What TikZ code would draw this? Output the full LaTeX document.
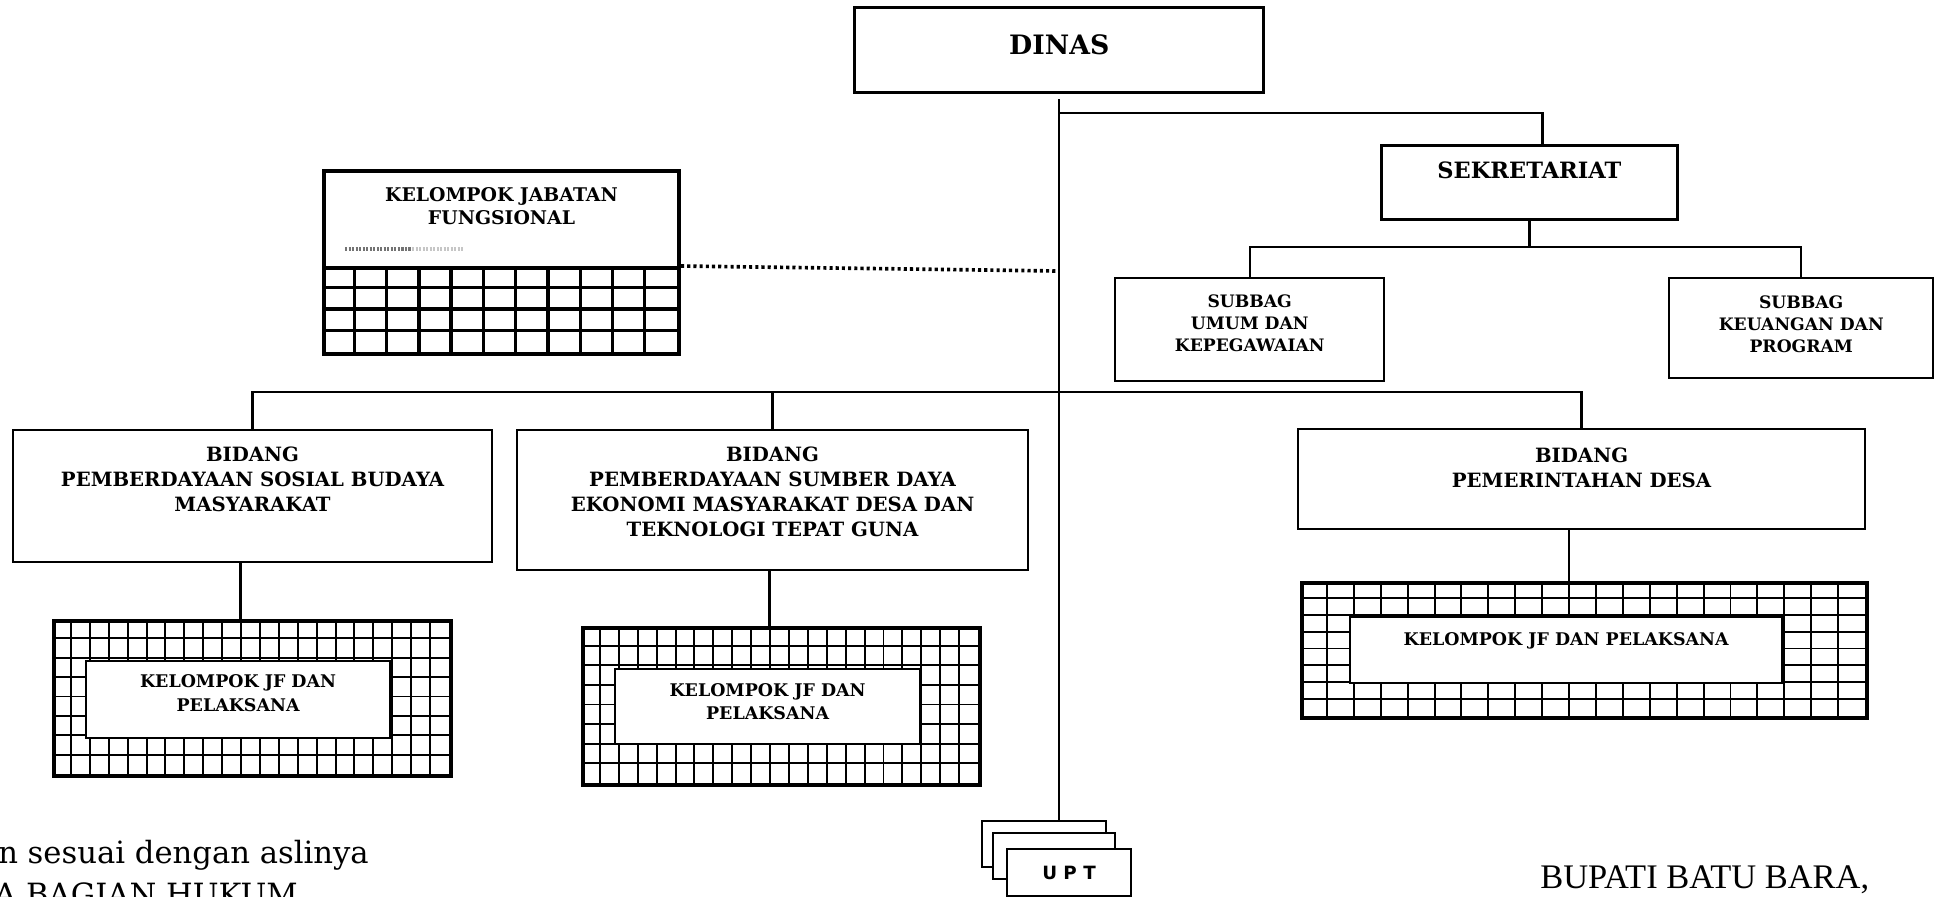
\documentclass[tikz,border=0pt]{standalone}
\usepackage{fontspec}
\setmainfont{DejaVu Serif}
\setsansfont{DejaVu Sans}
\newfontfamily\timesfont{Liberation Serif}
\usepackage{tikz}
\usetikzlibrary{calc}

\newcommand{\fdinas}{\bfseries\fontsize{19}{22}\selectfont}
\newcommand{\fsek}{\bfseries\fontsize{16}{19}\selectfont}
\newcommand{\fkjf}{\bfseries\fontsize{13.4}{16.7}\selectfont}
\newcommand{\fsub}{\bfseries\fontsize{12.2}{15.7}\selectfont}
\newcommand{\fbid}{\bfseries\fontsize{14}{17.6}\selectfont}
\newcommand{\fjf}{\bfseries\fontsize{12.4}{16.7}\selectfont}
\newcommand{\fupt}{\sffamily\bfseries\fontsize{13}{15}\selectfont}
% x, y, width, height, columns, rows
\newcommand{\cellgrid}[7][gridline]{%
  \pgfmathtruncatemacro{\gcols}{#6-1}\pgfmathtruncatemacro{\grows}{#7-1}%
  \foreach \i in {1,...,\gcols}{\draw[#1] ({#2+\i*#4/#6},#3) -- ++(0,#5);}%
  \foreach \j in {1,...,\grows}{\draw[#1] (#2,{#3+\j*#5/#7}) -- ++(#4,0);}%
}

\tikzset{
    box/.style={draw, fill=white, inner sep=0pt, anchor=north west},
    gbox/.style={draw, inner sep=0pt, anchor=north west, line width=2.6pt},
    ttl/.style={anchor=north, inner sep=0pt, align=center},
    conn/.style={line width=1.7pt},
    gridline/.style={line width=1.4pt},
    kjfline/.style={line width=2.4pt},
    dotline/.style={line width=2.6pt, dash pattern=on 2.2pt off 2.2pt}
}

\begin{document}
\begin{tikzpicture}[x=0.025cm, y=-0.025cm]
        \useasboundingbox (0,0) rectangle (1934,896);

        \node[box, minimum width=10.225cm, minimum height=2.125cm, line width=2.4pt,
            label={[ttl, yshift=-0.7cm, font=\fdinas]north:DINAS}] (dinas) at (853,6) {};

        \node[box, minimum width=7.4cm, minimum height=1.85cm, line width=2pt,
            label={[ttl, yshift=-0.44cm, font=\fsek]north:SEKRETARIAT}] (sekre) at (1380,144) {};
        \node[box, minimum width=6.725cm, minimum height=2.575cm, line width=1.7pt,
            label={[ttl, yshift=-0.425cm, font=\fsub]north:{SUBBAG\\UMUM DAN\\KEPEGAWAIAN}}] (umum) at (1114,277) {};
        \node[box, minimum width=6.6cm, minimum height=2.5cm, line width=1.7pt,
            label={[ttl, yshift=-0.45cm, font=\fsub]north:{SUBBAG\\KEUANGAN DAN\\PROGRAM}}] (keu) at (1668,277) {};

        \cellgrid[kjfline]{322}{266}{355}{86}{11}{4}
        \node[gbox, minimum width=8.875cm, minimum height=2.15cm, line width=2.8pt] (kjfgrid) at (322,266) {};
        \node[box, minimum width=8.875cm, minimum height=2.425cm, line width=2.8pt,
            label={[ttl, yshift=-0.45cm, font=\fkjf]north:{KELOMPOK JABATAN\\FUNGSIONAL}}] (kjf) at (322,169) {};
        \draw[gray!90!black, line width=2.4pt, dash pattern=on 1.6pt off 0.9pt] (345,249) -- (412,249);
        \draw[gray!45, line width=2.4pt, dash pattern=on 1.6pt off 0.9pt] (412,249) -- (464,249);

        \node[box, minimum width=11.975cm, minimum height=3.3cm, line width=1.4pt,
            label={[ttl, yshift=-0.45cm, font=\fbid]north:{BIDANG\\PEMBERDAYAAN SOSIAL BUDAYA\\MASYARAKAT}}] (bid1) at (12,429) {};
        \node[box, minimum width=12.775cm, minimum height=3.5cm, line width=1.4pt,
            label={[ttl, yshift=-0.45cm, font=\fbid]north:{BIDANG\\PEMBERDAYAAN SUMBER DAYA\\EKONOMI MASYARAKAT DESA DAN\\TEKNOLOGI TEPAT GUNA}}] (bid2) at (516,429) {};
        \node[box, minimum width=14.175cm, minimum height=2.5cm, line width=1.4pt,
            label={[ttl, yshift=-0.5cm, font=\fbid]north:{BIDANG\\PEMERINTAHAN DESA}}] (bid3) at (1297,428) {};

        \cellgrid{52}{619}{397}{155}{21}{8}
        \node[gbox, minimum width=9.925cm, minimum height=3.875cm] (g1) at (52,619) {};
        \node[box, minimum width=7.6cm, minimum height=1.925cm, line width=1.5pt,
            label={[ttl, yshift=-0.3625cm, font=\fjf]north:{KELOMPOK JF DAN\\PELAKSANA}}] (jf1) at (85,660) {};

        \cellgrid{581}{626}{397}{157}{21}{8}
        \node[gbox, minimum width=9.925cm, minimum height=3.925cm] (g2) at (581,626) {};
        \node[box, minimum width=7.625cm, minimum height=1.875cm, line width=1.5pt,
            label={[ttl, yshift=-0.375cm, font=\fjf]north:{KELOMPOK JF DAN\\PELAKSANA}}] (jf2) at (614,668) {};

        \cellgrid{1300}{581}{565}{135}{21}{8}
        \node[gbox, minimum width=14.125cm, minimum height=3.375cm] (g3) at (1300,581) {};
        \node[box, minimum width=10.8cm, minimum height=1.65cm, line width=1.5pt,
            label={[ttl, yshift=-0.4cm, font=\fjf]north:KELOMPOK JF DAN PELAKSANA}] (jf3) at (1349,616) {};

        \node[box, minimum width=3.1cm, minimum height=1.15cm, line width=1.4pt] (upt1) at (981,820) {};
        \node[box, minimum width=3.05cm, minimum height=1.15cm, line width=1.4pt] (upt2) at (992,832) {};
        \node[box, minimum width=3.1cm, minimum height=1.175cm, line width=1.4pt, font=\fupt] (upt3) at (1006,848) {U P T};

        \coordinate (jsek) at (1058,113);
        \coordinate (jfung) at (1058,271);
        \coordinate (jbid) at (1058,392);

        \draw[conn] ([yshift=-0.125cm]dinas.south) -- (dinas.south |- upt1.north);
        \draw[conn] (jsek) -| ($(sekre.north)+(13,0)$);
        \draw[conn] (sekre.south) -- ++(0,26) coordinate (jsub);
        \draw[conn] (umum.north) |- (jsub) -| (keu.north);
        \draw[dotline] (kjfgrid.north east) -- (jfung);
        \draw[conn] (bid1.north) |- (jbid) -| (bid3.north);
        \draw[conn] (bid2.north) -- (bid2.north |- jbid);
        \draw[conn] ([xshift=-0.3cm]bid1.south) -- ([xshift=-0.3cm]bid1.south |- g1.north);
        \draw[conn] ([xshift=-0.075cm]bid2.south) -- ([xshift=-0.075cm]bid2.south |- g2.north);
        \draw[conn] ([xshift=-0.31cm]bid3.south) -- ([xshift=-0.31cm]bid3.south |- g3.north);

        \node[anchor=base west, inner sep=0pt, font=\fontsize{21.8}{26}\selectfont] (salin) at (-2,863) {n sesuai dengan aslinya};
        \node[anchor=base west, inner sep=0pt, font=\fontsize{21.8}{26}\selectfont] (kabag) at (-6,905) {A BAGIAN HUKUM};
        \node[anchor=base west, inner sep=0pt, font=\timesfont\fontsize{24.5}{28}\selectfont] (bupati) at (1540,888) {BUPATI BATU BARA,};
    \end{tikzpicture}
\end{document}
